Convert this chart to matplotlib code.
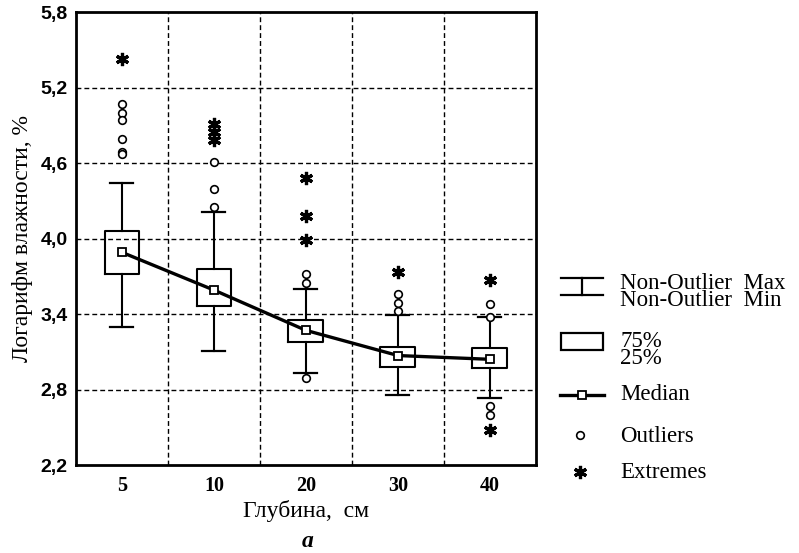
import matplotlib.pyplot as plt
from matplotlib.lines import Line2D
from matplotlib.patches import Rectangle

depths = ["5", "10", "20", "30", "40"]
whis_lo = [3.30, 3.11, 2.93, 2.76, 2.73]
q1 = [3.72, 3.46, 3.18, 2.98, 2.97]
medians = [3.89, 3.59, 3.27, 3.07, 3.04]
q3 = [4.06, 3.76, 3.35, 3.14, 3.13]
whis_hi = [4.44, 4.21, 3.60, 3.39, 3.38]
outliers = [
    [5.07, 5.00, 4.94, 4.79, 4.69, 4.67],
    [4.61, 4.39, 4.25],
    [3.72, 3.65, 2.89],
    [3.56, 3.49, 3.42],
    [3.48, 3.38, 2.67, 2.60],
]
extremes = [
    [5.43],
    [4.91, 4.85, 4.78],
    [4.48, 4.18, 3.99],
    [3.73],
    [3.67, 2.48],
]

serif = "Liberation Serif"
asterisk = (6, 2, 0)

fig = plt.figure(figsize=(7.99, 5.53), dpi=100)
ax = fig.add_axes([0.0951, 0.1591, 0.5757, 0.8192])

stats = []
for i in range(len(depths)):
    stats.append(dict(med=medians[i], q1=q1[i], q3=q3[i],
                      whislo=whis_lo[i], whishi=whis_hi[i], fliers=[]))
pos = list(range(len(depths)))
ax.bxp(stats, positions=pos, widths=0.38, capwidths=0.25, showfliers=False,
       boxprops=dict(color="black", linewidth=1.5),
       whiskerprops=dict(color="black", linewidth=1.5),
       capprops=dict(color="black", linewidth=1.6),
       medianprops=dict(linewidth=0), zorder=3)

ax.plot(pos, medians, color="black", linewidth=2.4, marker="s", markersize=5.5,
        markerfacecolor="white", markeredgecolor="black", markeredgewidth=1.3, zorder=4)

for i in pos:
    ax.plot([i] * len(outliers[i]), outliers[i], linestyle="none", marker="o",
            markersize=5.5, markerfacecolor="white", markeredgecolor="black",
            markeredgewidth=1.2, zorder=5)
    ax.plot([i] * len(extremes[i]), extremes[i], linestyle="none", marker=asterisk,
            markersize=9.5, markeredgecolor="black", markeredgewidth=2.3, zorder=5)

# dashed grid between categories and at inner y ticks
for y in [2.8, 3.4, 4.0, 4.6, 5.2]:
    ax.axhline(y, color="black", linewidth=1.0, linestyle=(0, (3.5, 2.2)), zorder=1)
for x in [0.5, 1.5, 2.5, 3.5]:
    ax.axvline(x, color="black", linewidth=1.0, linestyle=(0, (3.5, 2.2)), zorder=1)

ax.set_xlim(-0.5, 4.5)
ax.set_ylim(2.2, 5.8)
ax.set_xticks(pos)
ax.set_xticklabels(depths, fontfamily=serif, fontweight="bold", fontsize=14.5)
yt = [2.2, 2.8, 3.4, 4.0, 4.6, 5.2, 5.8]
ax.set_yticks(yt)
ax.set_yticklabels([f"{v:.1f}".replace(".", ",") for v in yt],
                   fontfamily="Liberation Sans", fontweight="bold", fontsize=14)
ax.tick_params(axis="x", length=0, pad=8)
ax.tick_params(axis="y", length=0, pad=6)
for s in ax.spines.values():
    s.set_linewidth(2.0)

ax.set_xlabel("Глубина,  см", fontfamily=serif, fontsize=17, labelpad=3)
ax.set_ylabel("Логарифм влажности, %", fontfamily=serif, fontsize=17, labelpad=5)
fig.text(0.385, 1 - 539 / 553, "а", fontfamily=serif, fontstyle="italic",
         fontweight="bold", fontsize=17, ha="center", va="center_baseline")

# legend drawn by hand in pixel coordinates
W, H = 799, 553


def fx(px):
    return px / W


def fy(py):
    return 1 - py / H


lk = dict(color="black", transform=fig.transFigure)
fig.add_artist(Line2D([fx(561), fx(603)], [fy(278), fy(278)], linewidth=1.6, **lk))
fig.add_artist(Line2D([fx(561), fx(603)], [fy(295), fy(295)], linewidth=1.6, **lk))
fig.add_artist(Line2D([fx(582), fx(582)], [fy(278), fy(295)], linewidth=1.6, **lk))
fig.add_artist(Rectangle((fx(561), fy(350)), fx(603) - fx(561), fy(333) - fy(350),
                         fill=False, linewidth=1.6, edgecolor="black",
                         transform=fig.transFigure))
fig.add_artist(Line2D([fx(560), fx(604)], [fy(395), fy(395)], linewidth=2.4, **lk))
fig.add_artist(Line2D([fx(582)], [fy(395)], marker="s", markersize=5.5,
                      markerfacecolor="white", markeredgecolor="black",
                      markeredgewidth=1.3, transform=fig.transFigure))
fig.add_artist(Line2D([fx(580)], [fy(435)], marker="o", markersize=5.5,
                      markerfacecolor="white", markeredgecolor="black",
                      markeredgewidth=1.2, transform=fig.transFigure))
fig.add_artist(Line2D([fx(580)], [fy(472)], marker=asterisk, markersize=9.5,
                      markeredgecolor="black", markeredgewidth=2.3,
                      transform=fig.transFigure))

tk = dict(fontfamily=serif, fontsize=16.5, va="center", ha="left")
fig.text(fx(620), fy(292), "Non-Outlier  Max\nNon-Outlier  Min", linespacing=0.72, **tk)
fig.text(fx(620), fy(350), "75%\n25%", linespacing=0.72, **tk)
fig.text(fx(620), fy(395), "Median", **tk)
fig.text(fx(620), fy(437), "Outliers", **tk)
fig.text(fx(620), fy(473), "Extremes", **tk)

fig.savefig("out.png", dpi=100)
